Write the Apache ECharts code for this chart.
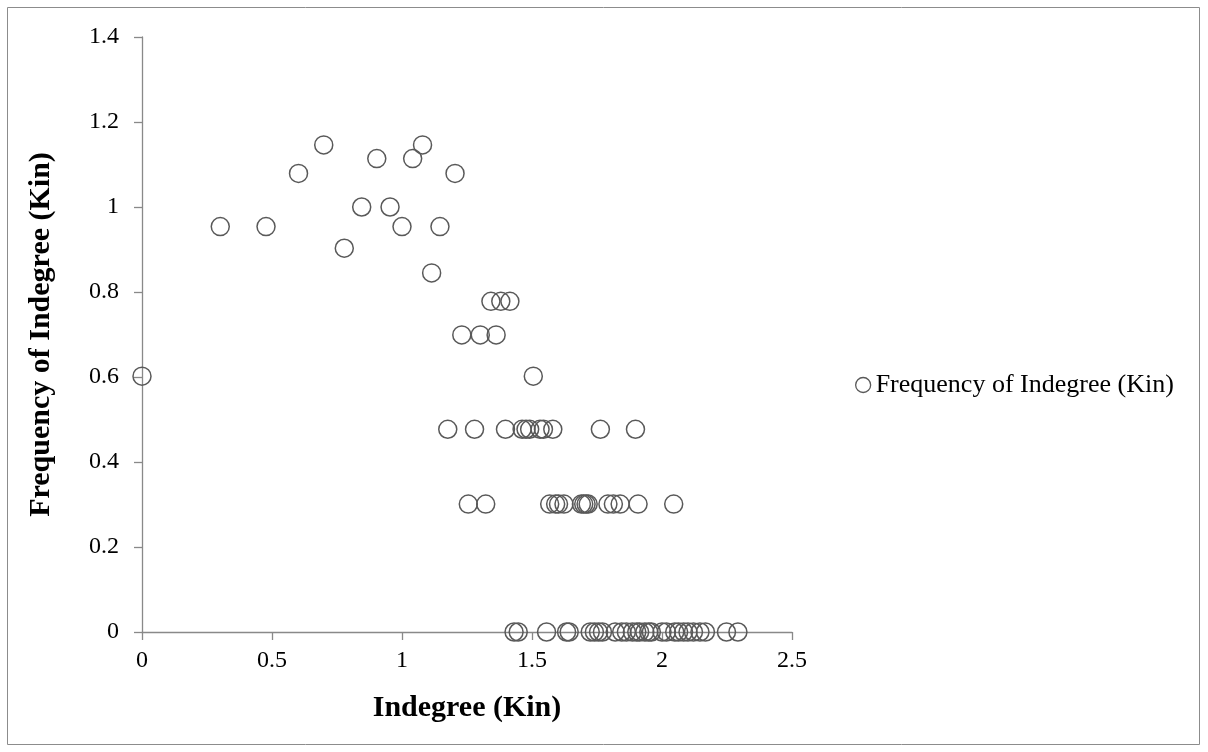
<!DOCTYPE html>
<html>
<head>
<meta charset="utf-8">
<script src="https://cdn.jsdelivr.net/npm/echarts@6/dist/echarts.min.js"></script>
<style>
html,body{margin:0;padding:0;background:#fff;}
#chart{width:1208px;height:752px;}
</style>
</head>
<body>
<div id="chart"></div>
<script>
// Indegree (Kin) values, grouped by frequency row
const xValues = [
  0, 0.301, 0.477, 0.602, 0.699, 0.778, 0.845, 0.903, 0.954, 1.0,
  1.041, 1.079, 1.114, 1.146, 1.176, 1.204, 1.230, 1.255, 1.279, 1.301,
  1.322, 1.342, 1.362, 1.380, 1.398, 1.415, 1.505,
  // 0.477 row
  1.462, 1.477, 1.491, 1.531, 1.544, 1.580, 1.763, 1.898,
  // 0.301 row
  1.568, 1.591, 1.602, 1.623, 1.690, 1.699, 1.708, 1.716, 1.792, 1.813, 1.839, 1.908, 2.045,
  // 0 row
  1.431, 1.447, 1.556, 1.633, 1.643, 1.724, 1.740, 1.756, 1.771, 1.820, 1.845, 1.863,
  1.886, 1.903, 1.914, 1.934, 1.949, 1.959, 2.000, 2.017, 2.049, 2.064, 2.083,
  2.100, 2.121, 2.146, 2.167, 2.248, 2.292
];
// Frequency of Indegree (Kin) values
const yValues = [
  0.602, 0.954, 0.954, 1.079, 1.146, 0.903, 1.0, 1.114, 1.0, 0.954,
  1.114, 1.146, 0.845, 0.954, 0.477, 1.079, 0.699, 0.301, 0.477, 0.699,
  0.301, 0.778, 0.699, 0.778, 0.477, 0.778, 0.602,
  0.477, 0.477, 0.477, 0.477, 0.477, 0.477, 0.477, 0.477,
  0.301, 0.301, 0.301, 0.301, 0.301, 0.301, 0.301, 0.301, 0.301, 0.301, 0.301, 0.301, 0.301,
  0, 0, 0, 0, 0, 0, 0, 0, 0, 0, 0, 0,
  0, 0, 0, 0, 0, 0, 0, 0, 0, 0, 0,
  0, 0, 0, 0, 0, 0
];
const seriesName = 'Frequency of Indegree (Kin)';
const xAxisName = 'Indegree (Kin)';
const yAxisName = 'Frequency of Indegree (Kin)';

const data = xValues.map((x, i) => [x, yValues[i]]);
const serif = '"Liberation Serif", "Times New Roman", serif';
const axisGray = '#898989';

const chart = echarts.init(document.getElementById('chart'), null, {renderer: 'canvas'});
chart.setOption({
  animation: false,
  backgroundColor: '#fff',
  textStyle: {fontFamily: serif},
  graphic: [{
    type: 'rect',
    shape: {x: 7.5, y: 7.5, width: 1192, height: 737},
    style: {fill: 'none', stroke: '#8c8c8c', lineWidth: 1},
    silent: true
  }],
  grid: {left: 142, top: 37, width: 650, height: 595, containLabel: false},
  legend: {
    show: true,
    left: 850,
    top: 367,
    itemWidth: 15,
    itemHeight: 15,
    icon: 'circle',
    textStyle: {fontFamily: serif, fontSize: 26, color: '#000'},
    itemStyle: {color: '#fff', borderColor: '#595959', borderWidth: 1.3},
    data: [seriesName]
  },
  xAxis: {
    type: 'value',
    min: 0, max: 2.5, interval: 0.5,
    name: xAxisName,
    nameLocation: 'middle',
    nameGap: 61,
    nameTextStyle: {fontFamily: serif, fontSize: 30, fontWeight: 'bold', color: '#000'},
    axisLine: {show: true, lineStyle: {color: axisGray, width: 1.3}},
    axisTick: {show: true, inside: false, length: 8, lineStyle: {color: axisGray, width: 1.3}},
    axisLabel: {fontFamily: serif, fontSize: 24, color: '#000', margin: 17},
    splitLine: {show: false}
  },
  yAxis: {
    type: 'value',
    min: 0, max: 1.4, interval: 0.2,
    name: yAxisName,
    nameLocation: 'middle',
    nameGap: 86,
    nameRotate: 90,
    nameTextStyle: {fontFamily: serif, fontSize: 30, fontWeight: 'bold', color: '#000'},
    axisLine: {show: true, lineStyle: {color: axisGray, width: 1.3}},
    axisTick: {show: true, inside: false, length: 8, lineStyle: {color: axisGray, width: 1.3}},
    axisLabel: {fontFamily: serif, fontSize: 24, color: '#000', margin: 23},
    splitLine: {show: false}
  },
  series: [{
    name: seriesName,
    type: 'scatter',
    symbol: 'circle',
    symbolSize: 18,
    data: data,
    itemStyle: {color: 'rgba(255,255,255,0)', borderColor: '#595959', borderWidth: 1.5, opacity: 1}
  }]
});
</script>
</body>
</html>
